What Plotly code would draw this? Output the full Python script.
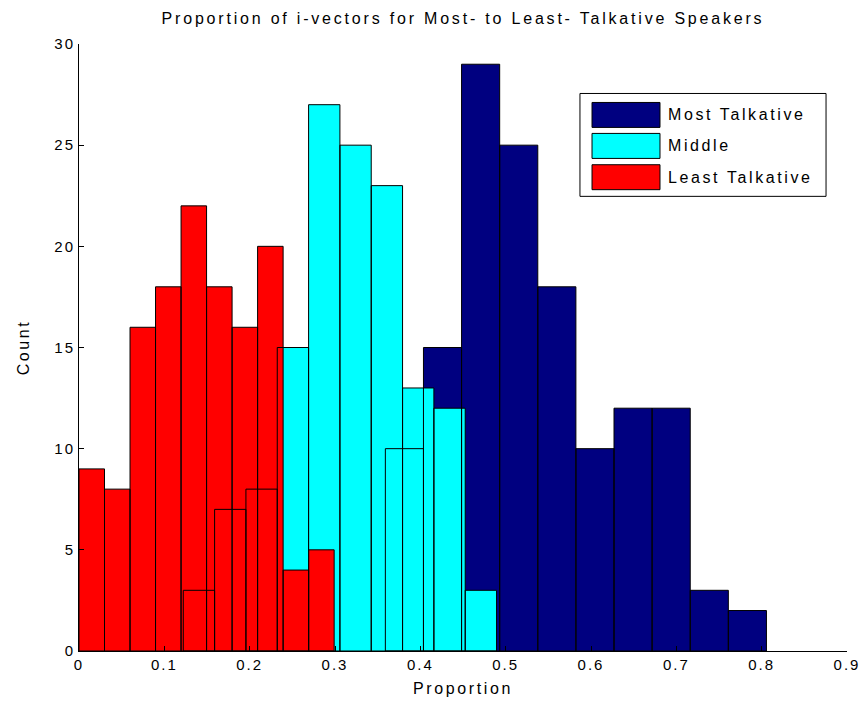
import plotly.graph_objects as go

# ---- data (10-bin histograms, counts per bin) ----
least_range = (0.0, 0.299)
least_counts = [9, 8, 16, 18, 22, 18, 16, 20, 4, 5]

middle_range = (0.1222, 0.4893)
middle_counts = [3, 7, 8, 15, 27, 25, 23, 13, 12, 3]

most_range = (0.3590, 0.8056)
most_counts = [10, 15, 29, 25, 18, 10, 12, 12, 3, 2]

x_ticks = [0, 0.1, 0.2, 0.3, 0.4, 0.5, 0.6, 0.7, 0.8, 0.9]
x_tick_labels = ["0", "0.1", "0.2", "0.3", "0.4", "0.5", "0.6", "0.7", "0.8", "0.9"]
y_ticks = [0, 5, 10, 15, 20, 25, 30]
y_tick_labels = ["0", "5", "10", "15", "20", "25", "30"]

legend_names = ["Most Talkative", "Middle", "Least Talkative"]

# ---- styles ----
NAVY = "#000080"
CYAN = "#00FFFF"
RED = "#FF0000"
least_colors = [RED] * 10
middle_colors = [RED] * 3 + [CYAN] * 7
most_colors = [CYAN] + [NAVY] * 9
legend_colors = [NAVY, CYAN, RED]
FONT = "Liberation Sans"


def sp(t, ls=2.6):
    return f'<span style="letter-spacing:{ls}px">{t}</span>'


def bins(rng, counts):
    lo, hi = rng
    n = len(counts)
    w = (hi - lo) / n
    centers = [lo + w * (i + 0.5) for i in range(n)]
    return centers, [w] * n


fig = go.Figure()
hists = [(most_range, most_counts, most_colors),
         (middle_range, middle_counts, middle_colors),
         (least_range, least_counts, least_colors)]

# fills first
for rng, counts, cols in hists:
    c, w = bins(rng, counts)
    fig.add_trace(go.Bar(x=c, y=counts, width=w, showlegend=False,
                         marker=dict(color=cols, line=dict(width=0))))
# outlines on top
for rng, counts, cols in hists:
    c, w = bins(rng, counts)
    fig.add_trace(go.Bar(x=c, y=counts, width=w, showlegend=False,
                         marker=dict(color="rgba(0,0,0,0)",
                                     line=dict(color="black", width=1))))

# manual MATLAB-style legend (paper coordinates)
lx0, lx1, ly0, ly1 = 0.6523, 0.9727, 0.7490, 0.9185
fig.add_shape(type="rect", xref="paper", yref="paper", x0=lx0, x1=lx1, y0=ly0, y1=ly1,
              line=dict(color="black", width=1), fillcolor="white", layer="above")
sw_y = [(0.8626, 0.9037), (0.8115, 0.8527), (0.7600, 0.8011)]
for name, col, (y0, y1) in zip(legend_names, legend_colors, sw_y):
    fig.add_shape(type="rect", xref="paper", yref="paper", x0=0.668, x1=0.7565, y0=y0, y1=y1,
                  line=dict(color="black", width=1), fillcolor=col, layer="above")
    fig.add_annotation(xref="paper", yref="paper", x=0.7640, y=(y0 + y1) / 2, text=sp(name),
                       showarrow=False, xanchor="left", yanchor="middle",
                       font=dict(family=FONT, size=16, color="black"))

axis_common = dict(ticks="inside", ticklen=5, tickcolor="black", showline=True,
                   linecolor="black", linewidth=1, showgrid=False, zeroline=False,
                   automargin=False,
                   tickfont=dict(family=FONT, size=15, color="black"))

fig.update_layout(
    width=865, height=709, autosize=False,
    margin=dict(l=79, r=18, t=44, b=58),
    paper_bgcolor="white", plot_bgcolor="white",
    barmode="overlay",
    title=dict(text=sp("Proportion of i-vectors for Most- to Least- Talkative Speakers", 2.8),
               x=0.5, xref="paper", xanchor="center", y=1 - 18 / 709, yanchor="middle",
               font=dict(family=FONT, size=16, color="black")),
    xaxis=dict(range=[0, 0.9], tickvals=x_ticks, ticktext=[sp(t, 2.0) for t in x_tick_labels],
               title=dict(text=sp("Proportion"), standoff=10,
                          font=dict(family=FONT, size=16, color="black")),
               **axis_common),
    yaxis=dict(range=[0, 30], tickvals=y_ticks, ticktext=[sp(t, 2.0) for t in y_tick_labels],
               title=dict(text=sp("Count"), standoff=20,
                          font=dict(family=FONT, size=16, color="black")),
               **axis_common),
)

fig.write_html(
    "out.html",
    config={"displayModeBar": False},
    post_script="document.documentElement.style.margin='0';document.body.style.margin='0';"
                "document.body.style.overflow='hidden';",
)
